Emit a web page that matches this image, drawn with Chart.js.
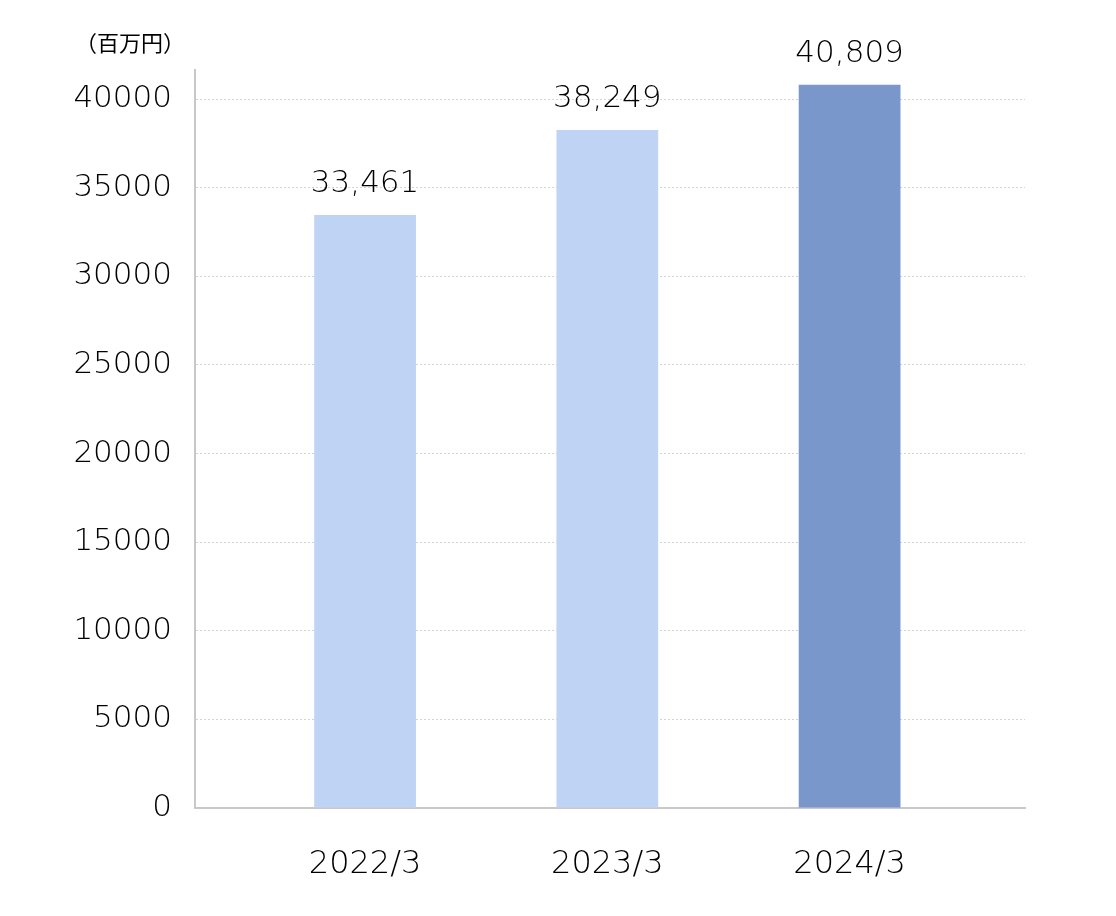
<!DOCTYPE html>
<html>
<head>
<meta charset="utf-8">
<script src="https://cdn.jsdelivr.net/npm/chart.js@4"></script>
<style>
    html, body { margin: 0; padding: 0; background: #fff; }
    #wrap { width: 1116px; height: 916px; }
</style>
</head>
<body>
<div id="wrap"><canvas id="salesChart" width="1116" height="916"></canvas></div>
<script>
// chart data
const categories = ["2022/3", "2023/3", "2024/3"];
const sales      = [33461, 38249, 40809];
const yTicks     = [0, 5000, 10000, 15000, 20000, 25000, 30000, 35000, 40000];
const barColors  = ["#bfd4f4", "#bfd4f4", "#7a97cc"];
const unitLabel  = "（百万円）";

const FONT = "'DejaVu Sans', sans-serif";
const CJK  = "'Noto Sans CJK JP', sans-serif";
const TEXT = "#000";

// value labels above bars + unit label over the y axis
const labelPlugin = {
    id: "labels",
    afterDatasetsDraw(c) {
        const ctx = c.ctx;
        const meta = c.getDatasetMeta(0);
        ctx.save();
        ctx.fillStyle = TEXT;
        ctx.font = "300 31px " + FONT;
        ctx.textAlign = "center";
        ctx.textBaseline = "alphabetic";
        meta.data.forEach((bar, i) => {
            ctx.fillText(sales[i].toLocaleString("en-US"), bar.x, bar.y - 23);
        });
        ctx.font = "22px " + CJK;
        ctx.textAlign = "right";
        ctx.textBaseline = "middle";
        ctx.fillText(unitLabel, c.chartArea.left - 10, 43);
        ctx.restore();
    }
};

new Chart(document.getElementById("salesChart"), {
    type: "bar",
    data: {
        datasets: [{
            data: sales.map((v, i) => ({ x: i, y: v })),
            backgroundColor: barColors,
            borderWidth: 0,
            barPercentage: 0.42,
            categoryPercentage: 1
        }]
    },
    options: {
        responsive: false,
        animation: false,
        layout: { padding: { top: 70, right: 91, left: 0, bottom: 0 } },
        plugins: { legend: { display: false }, tooltip: { enabled: false } },
        scales: {
            x: {
                type: "linear",
                offset: false,
                min: -0.702,
                max: 2.724,
                afterFit: (s) => { s.height = 108; },
                afterBuildTicks: (s) => {
                    s.ticks = categories.map((_, i) => ({ value: i }));
                },
                ticks: {
                    color: TEXT,
                    padding: 29,
                    font: { size: 32, family: FONT, weight: "300" },
                    callback: (v) => categories[v]
                },
                grid: { display: false, offset: false },
                border: { display: true, color: "#c8c8c8", width: 2 }
            },
            y: {
                min: 0,
                max: 41640,
                afterFit: (s) => { s.width = 195; },
                afterBuildTicks: (s) => {
                    s.ticks = yTicks.map(v => ({ value: v }));
                },
                ticks: {
                    color: TEXT,
                    padding: 23,
                    font: { size: 31, family: FONT, weight: "300" },
                    callback: (v) => String(v)
                },
                grid: { color: "#d4d4d4", lineWidth: 1, drawTicks: false },
                border: { display: true, color: "#c8c8c8", width: 2, dash: [2, 2] }
            }
        }
    },
    plugins: [labelPlugin]
});
</script>
</body>
</html>
